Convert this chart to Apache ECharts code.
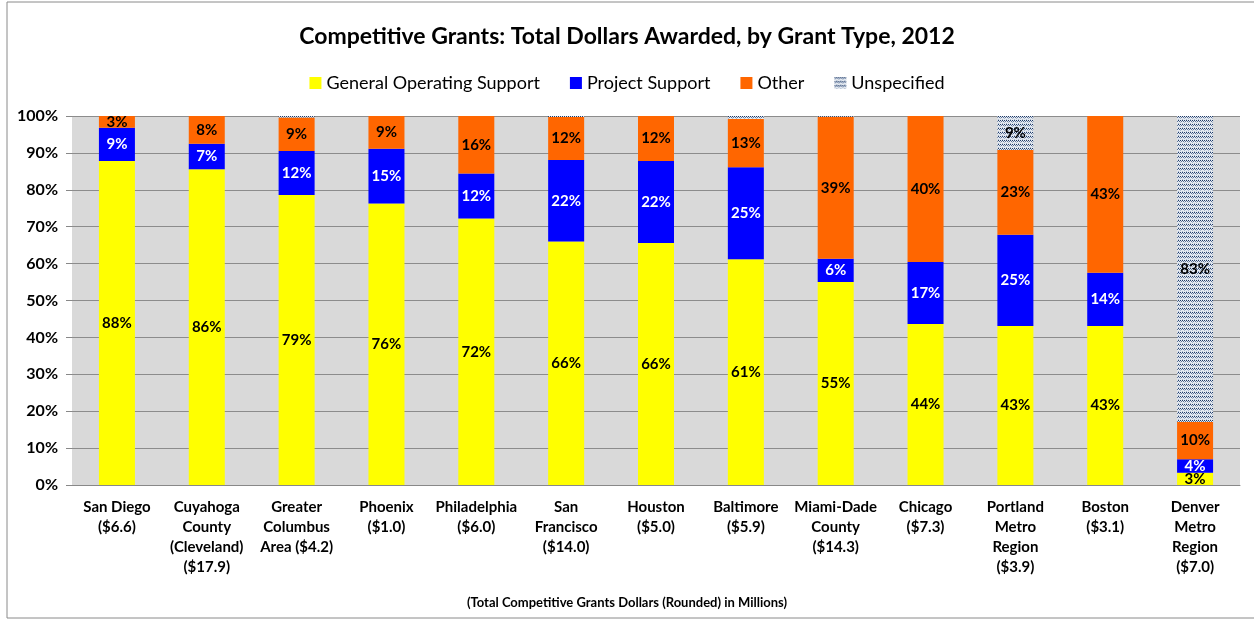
<!DOCTYPE html>
<html>
<head>
<meta charset="utf-8">
<script src="https://cdn.jsdelivr.net/npm/echarts@6/dist/echarts.min.js"></script>
<style>
  html, body { margin: 0; padding: 0; background: #fff; }
  #chart { width: 1254px; height: 621px; }
</style>
</head>
<body>
<div id="chart"></div>
<script>
// data (percent of total dollars)
var categories = [
    'San Diego\n($6.6)', 'Cuyahoga\nCounty\n(Cleveland)\n($17.9)', 'Greater\nColumbus\nArea ($4.2)',
    'Phoenix\n($1.0)', 'Philadelphia\n($6.0)', 'San\nFrancisco\n($14.0)', 'Houston\n($5.0)',
    'Baltimore\n($5.9)', 'Miami-Dade\nCounty\n($14.3)', 'Chicago\n($7.3)', 'Portland\nMetro\nRegion\n($3.9)',
    'Boston\n($3.1)', 'Denver\nMetro\nRegion\n($7.0)'
];
var generalOperating = [87.8, 85.6, 78.6, 76.3, 72.2, 66.0, 65.6, 61.2, 55.0, 43.6, 43.1, 43.1, 3.3];
var projectSupport   = [9.0, 6.9, 11.9, 14.8, 12.2, 22.1, 22.2, 24.9, 6.3, 16.8, 24.7, 14.4, 3.7];
var other            = [3.2, 7.5, 9.1, 8.9, 15.6, 11.6, 12.2, 13.1, 38.5, 39.6, 23.0, 42.5, 10.1];
var unspecified      = [0, 0.4, 0.4, 0, 0, 0.3, 0, 0.8, 0.2, 0, 9.2, 0, 82.9];
var yTicks = [0, 10, 20, 30, 40, 50, 60, 70, 80, 90, 100];

var font = 'Lato, "Open Sans", sans-serif';

// dotted texture used by the "Unspecified" slices (rows of small dots)
function makePattern() {
    var c = document.createElement('canvas');
    c.width = 4; c.height = 4;
    var g = c.getContext('2d');
    g.fillStyle = '#e4e9f0';
    g.fillRect(0, 0, 4, 4);
    g.fillStyle = '#203c68';
    g.fillRect(0, 0, 1, 1); g.fillRect(2, 0, 1, 1);
    g.fillStyle = '#5a7298';
    g.fillRect(1, 1, 1, 1); g.fillRect(3, 1, 1, 1);
    g.fillStyle = '#a9b8cc';
    g.fillRect(0, 2, 1, 1); g.fillRect(2, 3, 1, 1);
    return { image: c, repeat: 'repeat' };
}

function pctLabel(minShown, color) {
    return {
        show: true,
        position: 'inside',
        color: color,
        fontFamily: font,
        fontWeight: 'bold',
        fontSize: 15,
        formatter: function (p) {
            return p.value >= minShown ? Math.round(p.value) + '%' : '';
        }
    };
}

var chart = echarts.init(document.getElementById('chart'));

var option = {
    backgroundColor: '#fff',
    animation: false,
    title: {
        text: 'Competitive Grants: Total Dollars Awarded, by Grant Type, 2012',
        left: 'center',
        top: 20,
        textStyle: { fontFamily: font, fontWeight: 'bold', fontSize: 23, color: '#000' }
    },
    legend: {
        top: 69,
        left: 'center',
        itemWidth: 12,
        itemHeight: 12,
        itemGap: 30,
        icon: 'rect',
        textStyle: { fontFamily: font, fontSize: 18, color: '#000' },
        data: ['General Operating Support', 'Project Support', 'Other', 'Unspecified']
    },
    grid: { left: 72, right: 14, top: 116, bottom: 136 },
    xAxis: {
        type: 'category',
        data: categories,
        axisLine: { lineStyle: { color: '#888' } },
        axisTick: { show: false },
        axisLabel: {
            interval: 0,
            margin: 12,
            color: '#000',
            fontFamily: font,
            fontWeight: 'bold',
            fontSize: 15,
            lineHeight: 20
        }
    },
    yAxis: {
        type: 'value',
        min: 0,
        max: 100,
        interval: 10,
        axisLine: { show: false },
        axisTick: { show: true, length: 6, lineStyle: { color: '#888' } },
        splitLine: { lineStyle: { color: '#8c8c8c' } },
        splitArea: { show: true, areaStyle: { color: ['#d9d9d9', '#d9d9d9'] } },
        axisLabel: {
            margin: 14,
            color: '#000',
            fontFamily: font,
            fontWeight: 'bold',
            fontSize: 16,
            formatter: function (v) { return yTicks.indexOf(v) >= 0 ? v + '%' : ''; }
        }
    },
    graphic: [
        {
            type: 'rect',
            shape: { x: 7, y: 2, width: 1260, height: 616 },
            style: { fill: 'none', stroke: '#8a8a8a', lineWidth: 1 },
            silent: true
        },
        {
            type: 'text',
            left: 'center',
            top: 596,
            style: {
                text: '(Total Competitive Grants Dollars (Rounded) in Millions)',
                fontFamily: font,
                fontWeight: 'bold',
                fontSize: 13,
                fill: '#000'
            }
        }
    ],
    series: [
        {
            name: 'General Operating Support',
            type: 'bar',
            stack: 'all',
            barWidth: 36,
            itemStyle: { color: '#ffff00' },
            label: pctLabel(2.5, '#000'),
            data: generalOperating
        },
        {
            name: 'Project Support',
            type: 'bar',
            stack: 'all',
            barWidth: 36,
            itemStyle: { color: '#0000ff' },
            label: pctLabel(2.5, '#fff'),
            data: projectSupport
        },
        {
            name: 'Other',
            type: 'bar',
            stack: 'all',
            barWidth: 36,
            itemStyle: { color: '#ff6600' },
            label: pctLabel(2.5, '#000'),
            data: other
        },
        {
            name: 'Unspecified',
            type: 'bar',
            stack: 'all',
            barWidth: 36,
            itemStyle: { color: makePattern() },
            label: pctLabel(5, '#000'),
            data: unspecified
        }
    ]
};

chart.setOption(option);
</script>
</body>
</html>
